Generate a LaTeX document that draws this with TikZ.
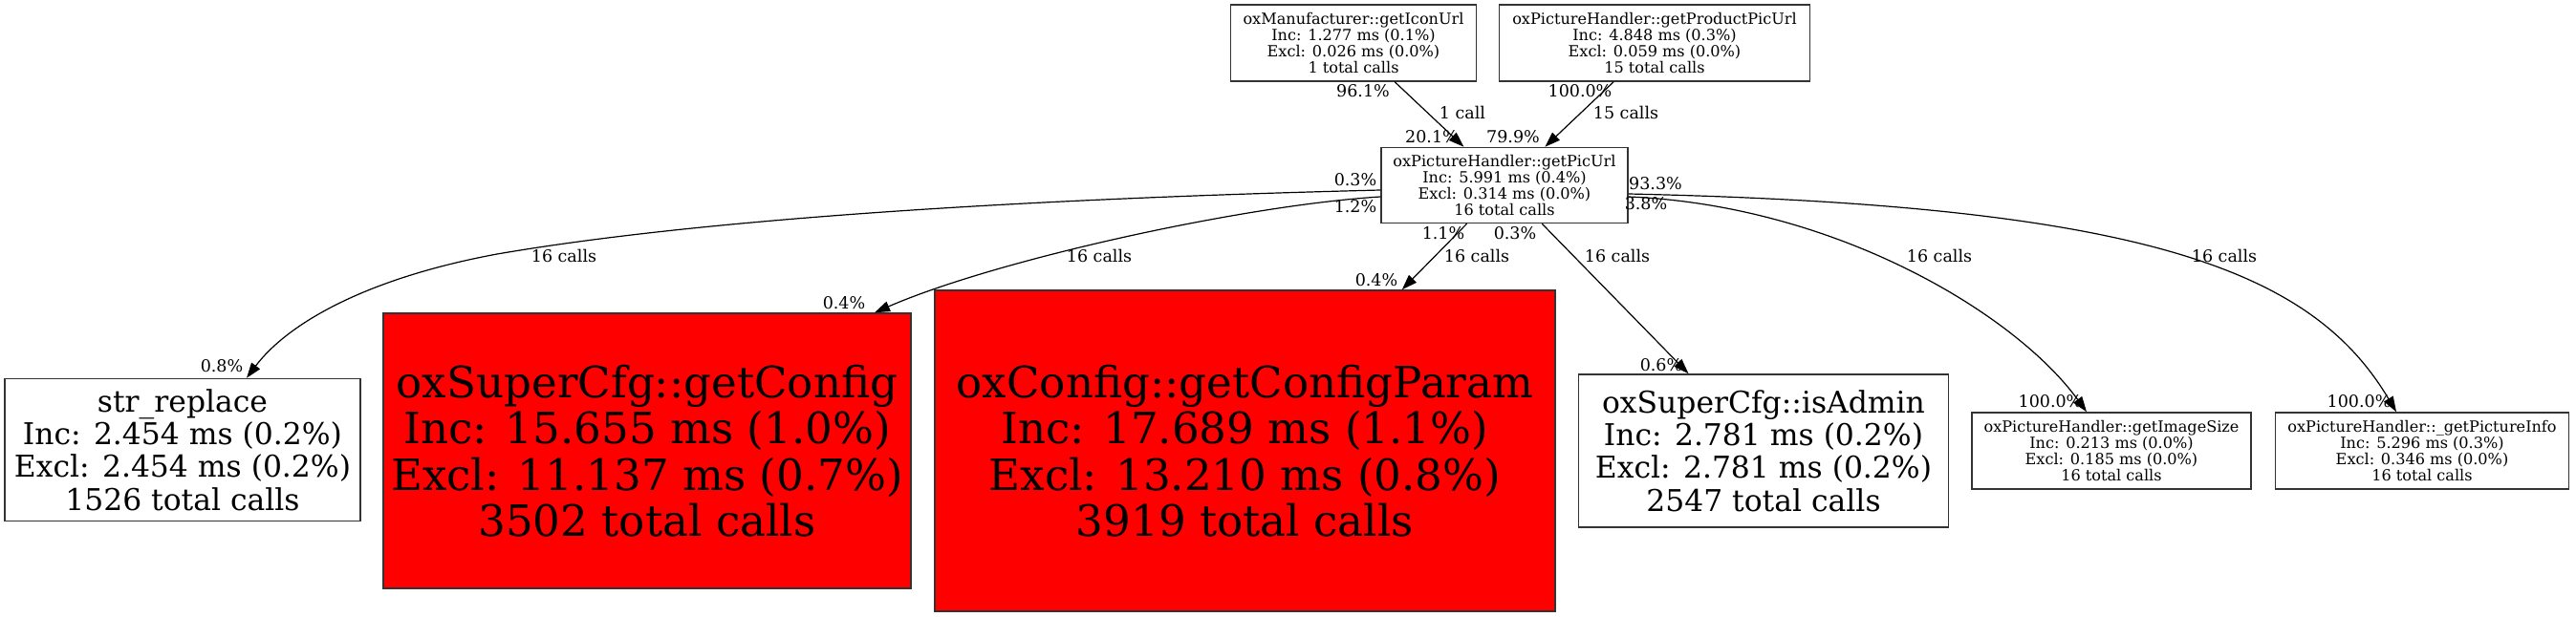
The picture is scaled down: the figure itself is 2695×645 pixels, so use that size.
\documentclass[tikz,border=0pt]{standalone}
\usepackage{fontspec}
\setmainfont{DejaVu Serif}
\usetikzlibrary{arrows.meta}

\tikzset{
    fn/.style={draw=black!80, line width=1.5pt, inner sep=0pt, align=center},
    fnsmall/.style={fn, font=\fontsize{16.1}{17}\selectfont, minimum height=80pt},
    fnmid/.style={fn, font=\fontsize{31.4}{34.4}\selectfont},
    fnhot/.style={fn, fill=red, font=\fontsize{45.2}{48.3}\selectfont},
    lbl/.style={inner sep=0pt, font=\fontsize{17.5}{18}\selectfont},
    call/.style={line width=1.2pt, -{Triangle[length=16pt,width=11pt]}}
}

\begin{document}
\begin{tikzpicture}[x=1pt, y=-1pt]
    \useasboundingbox (0,0) rectangle (2695,645);
    % callers
    \node[fnsmall, minimum width=257pt] (iconurl) at (1416,45)
        {oxManufacturer::getIconUrl\\Inc: 1.277 ms (0.1\%)\\Excl: 0.026 ms (0.0\%)\\1 total calls};
    \node[fnsmall, minimum width=325pt] (productpic) at (1731,45)
        {oxPictureHandler::getProductPicUrl\\Inc: 4.848 ms (0.3\%)\\Excl: 0.059 ms (0.0\%)\\15 total calls};
    \node[fnsmall, minimum width=258pt, minimum height=79pt] (picurl) at (1574,194)
        {oxPictureHandler::getPicUrl\\Inc: 5.991 ms (0.4\%)\\Excl: 0.314 ms (0.0\%)\\16 total calls};
    % callees
    \node[fnmid, minimum width=372pt, minimum height=149pt] (strrep) at (191,471)
        {str\_replace\\Inc: 2.454 ms (0.2\%)\\Excl: 2.454 ms (0.2\%)\\1526 total calls};
    \node[fnhot, minimum width=552pt, minimum height=288pt] (getconfig) at (677,472)
        {oxSuperCfg::getConfig\\Inc: 15.655 ms (1.0\%)\\Excl: 11.137 ms (0.7\%)\\3502 total calls};
    \node[fnhot, minimum width=649pt, minimum height=336pt] (configparam) at (1302.5,472)
        {oxConfig::getConfigParam\\Inc: 17.689 ms (1.1\%)\\Excl: 13.210 ms (0.8\%)\\3919 total calls};
    \node[fnmid, minimum width=387pt, minimum height=160pt] (isadmin) at (1845,472)
        {oxSuperCfg::isAdmin\\Inc: 2.781 ms (0.2\%)\\Excl: 2.781 ms (0.2\%)\\2547 total calls};
    \node[fnsmall, minimum width=292pt] (imagesize) at (2209,472)
        {oxPictureHandler::getImageSize\\Inc: 0.213 ms (0.0\%)\\Excl: 0.185 ms (0.0\%)\\16 total calls};
    \node[fnsmall, minimum width=307pt] (pictureinfo) at (2534,472)
        {oxPictureHandler::\_getPictureInfo\\Inc: 5.296 ms (0.3\%)\\Excl: 0.346 ms (0.0\%)\\16 total calls};

    % calls
    \draw[call] (iconurl) -- (picurl);
    \draw[call] (productpic) -- (picurl);
    \draw[call] ([yshift=-5pt]picurl.west) .. controls (1000,210) and (700,235) .. (520,266)
        .. controls (380,292) and (300,340) .. ([xshift=67pt]strrep.north);
    \draw[call] ([yshift=-12pt]picurl.west) .. controls (1300,215) and (1042,272) .. ([xshift=238pt]getconfig.north);
    \draw[call] (picurl) -- (configparam);
    \draw[call] (picurl) -- (isadmin);
    \draw[call] ([yshift=-12pt]picurl.east) .. controls (1920,215) and (2108,328) .. ([xshift=-26pt]imagesize.north);
    \draw[call] ([yshift=-9pt]picurl.east) .. controls (2250,215) and (2420,285) .. ([xshift=-27pt]pictureinfo.north);

    % labels
    \node[lbl] (tIcon) at (1426,95) {96.1\%};
    \node[lbl] (cIcon) at (1530,118) {1 call};
    \node[lbl] (hIcon) at (1498,143) {20.1\%};
    \node[lbl] (tProd) at (1653,95) {100.0\%};
    \node[lbl] (cProd) at (1701,118) {15 calls};
    \node[lbl] (hProd) at (1583,143) {79.9\%};
    \node[lbl] (tStr) at (1418,188) {0.3\%};
    \node[lbl] (tCfg) at (1418,216) {1.2\%};
    \node[lbl] (tInfo) at (1732,192) {93.3\%};
    \node[lbl] (tSize) at (1722,213) {3.8\%};
    \node[lbl] (tParam) at (1510,244) {1.1\%};
    \node[lbl] (tAdmin) at (1585,244) {0.3\%};
    \node[lbl] (cStr) at (590,268) {16 calls};
    \node[lbl] (cCfg) at (1150,268) {16 calls};
    \node[lbl] (cParam) at (1545,268) {16 calls};
    \node[lbl] (cAdmin) at (1692,268) {16 calls};
    \node[lbl] (cSize) at (2029,268) {16 calls};
    \node[lbl] (cInfo) at (2327,268) {16 calls};
    \node[lbl] (hStr) at (232,383) {0.8\%};
    \node[lbl] (hCfg) at (883,317) {0.4\%};
    \node[lbl] (hParam) at (1440,293) {0.4\%};
    \node[lbl] (hAdmin) at (1738,382) {0.6\%};
    \node[lbl] (hSize) at (2145,420) {100.0\%};
    \node[lbl] (hInfo) at (2468,420) {100.0\%};
\end{tikzpicture}
\end{document}
